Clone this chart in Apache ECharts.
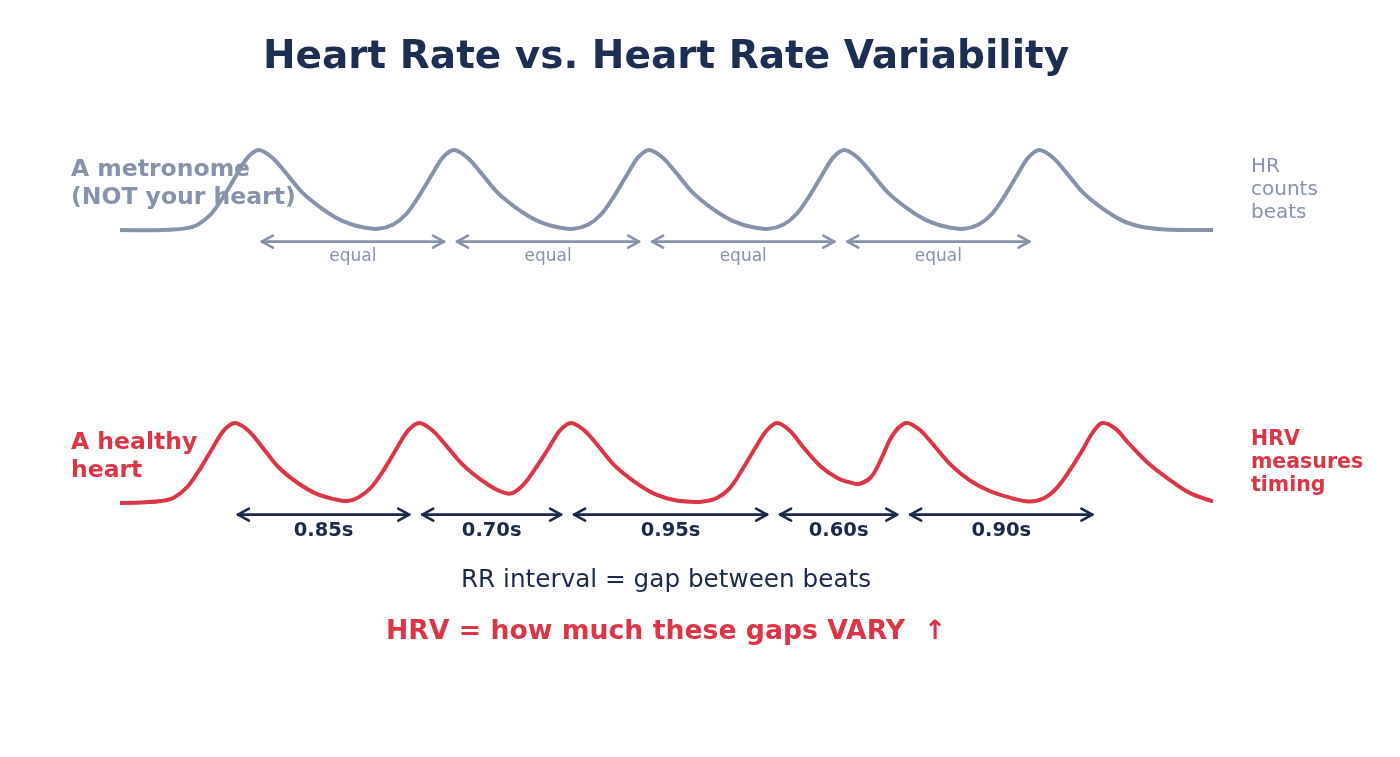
<!DOCTYPE html>
<html>
<head>
<meta charset="utf-8">
<script src="https://cdn.jsdelivr.net/npm/echarts@6/dist/echarts.min.js"></script>
<style>
  html, body { margin: 0; padding: 0; background: #ffffff; }
  #chart { width: 1400px; height: 757px; }
</style>
</head>
<body>
<div id="chart"></div>
<script>
// beat times in seconds
const metronomeBeats = [0.64, 1.54, 2.44, 3.34, 4.24];
const healthyBeats = [0.53, 1.38, 2.08, 3.03, 3.63, 4.53];

// labels under the arrows
const metronomeLabels = ['equal', 'equal', 'equal', 'equal'];
const rrLabels = ['0.85s', '0.70s', '0.95s', '0.60s', '0.90s'];

// pulse traces: [time (s), amplitude (0 = baseline, 1 = peak)]
const metronomeWave = [
  [0, 0], [0.2, 0], [0.30, 0.02], [0.36, 0.07], [0.42, 0.2], [0.48, 0.43], [0.54, 0.7], [0.59, 0.91], [0.64, 1],
  [0.70, 0.91], [0.76, 0.73], [0.84, 0.47], [0.93, 0.27], [1.02, 0.12], [1.11, 0.04], [1.19, 0.015],
  [1.26, 0.07], [1.32, 0.2], [1.38, 0.43], [1.44, 0.7], [1.49, 0.91], [1.54, 1],
  [1.60, 0.91], [1.66, 0.73], [1.74, 0.47], [1.83, 0.27], [1.92, 0.12], [2.01, 0.04], [2.09, 0.015],
  [2.16, 0.07], [2.22, 0.2], [2.28, 0.43], [2.34, 0.7], [2.39, 0.91], [2.44, 1],
  [2.50, 0.91], [2.56, 0.73], [2.64, 0.47], [2.73, 0.27], [2.82, 0.12], [2.91, 0.04], [2.99, 0.015],
  [3.06, 0.07], [3.12, 0.2], [3.18, 0.43], [3.24, 0.7], [3.29, 0.91], [3.34, 1],
  [3.40, 0.91], [3.46, 0.73], [3.54, 0.47], [3.63, 0.27], [3.72, 0.12], [3.81, 0.04], [3.89, 0.015],
  [3.96, 0.07], [4.02, 0.2], [4.08, 0.43], [4.14, 0.7], [4.19, 0.91], [4.24, 1],
  [4.30, 0.91], [4.36, 0.73], [4.44, 0.47], [4.53, 0.27], [4.62, 0.12], [4.71, 0.04], [4.80, 0.01],
  [4.92, 0], [5.04, 0]
];

const healthyWave = [
  [0, 0], [0.12, 0.01], [0.19, 0.025], [0.25, 0.07], [0.31, 0.2], [0.37, 0.43], [0.43, 0.7], [0.48, 0.91], [0.53, 1],
  [0.59, 0.91], [0.65, 0.72], [0.73, 0.45], [0.82, 0.25], [0.91, 0.11], [1.00, 0.04], [1.05, 0.025],
  [1.10, 0.07], [1.16, 0.2], [1.22, 0.43], [1.28, 0.7], [1.33, 0.91], [1.38, 1],
  [1.44, 0.91], [1.50, 0.73], [1.58, 0.48], [1.67, 0.28], [1.75, 0.15], [1.805, 0.12],
  [1.86, 0.23], [1.92, 0.45], [1.98, 0.7], [2.03, 0.91], [2.08, 1],
  [2.14, 0.91], [2.20, 0.73], [2.28, 0.47], [2.37, 0.27], [2.46, 0.12], [2.55, 0.04], [2.63, 0.015],
  [2.69, 0.02], [2.75, 0.06], [2.81, 0.18], [2.87, 0.42], [2.93, 0.69], [2.98, 0.9], [3.03, 1],
  [3.09, 0.9], [3.15, 0.7], [3.23, 0.46], [3.31, 0.31], [3.37, 0.255], [3.41, 0.24],
  [3.465, 0.33], [3.515, 0.58], [3.55, 0.79], [3.59, 0.94], [3.63, 1],
  [3.69, 0.91], [3.75, 0.73], [3.83, 0.48], [3.92, 0.28], [4.01, 0.15], [4.10, 0.07], [4.19, 0.02],
  [4.26, 0.06], [4.32, 0.19], [4.38, 0.41], [4.44, 0.67], [4.485, 0.88], [4.53, 1],
  [4.59, 0.93], [4.65, 0.75], [4.74, 0.5], [4.84, 0.29], [4.93, 0.13], [5.04, 0.02]
];

const GREY = '#8793aa';
const RED = '#dc3545';
const NAVY = '#1b2a4a';
const FONT = '"DejaVu Sans", sans-serif';

// one arrow per gap between consecutive beats
function gaps(beats) {
  const out = [];
  for (let i = 0; i < beats.length - 1; i++) out.push([beats[i], beats[i + 1]]);
  return out;
}

// whole trace as one smooth polyline, each point mapped through the axes
function waveRenderer(points, color) {
  return function (params, api) {
    if (params.dataIndex !== 0) return null;
    return {
      type: 'polyline',
      shape: { points: points.map(function (p) { return api.coord(p); }), smooth: 0.34 },
      style: { stroke: color, lineWidth: 4, fill: null, lineJoin: 'round' }
    };
  };
}

// double-headed arrow with its label below, placed through the axes
function arrowRenderer(labels, color, font, labelGap) {
  return function (params, api) {
    const a = api.coord([api.value(0), -0.145]);
    const b = api.coord([api.value(1), -0.145]);
    const x0 = a[0] + 3, x1 = b[0] - 10, y = a[1];
    const h = 11, w = 6;
    const st = { stroke: color, lineWidth: 2.6, fill: null, lineCap: 'round', lineJoin: 'round' };
    return {
      type: 'group',
      children: [
        { type: 'line', shape: { x1: x0, y1: y, x2: x1, y2: y }, style: st },
        { type: 'polyline', shape: { points: [[x0 + h, y - w], [x0, y], [x0 + h, y + w]] }, style: st },
        { type: 'polyline', shape: { points: [[x1 - h, y - w], [x1, y], [x1 - h, y + w]] }, style: st },
        {
          type: 'text',
          style: {
            text: labels[params.dataIndex], x: (x0 + x1) / 2, y: y + labelGap,
            fill: color, font: font, align: 'center', verticalAlign: 'middle'
          }
        }
      ]
    };
  };
}

const chart = echarts.init(document.getElementById('chart'), null, { renderer: 'canvas' });

chart.setOption({
  animation: false,
  backgroundColor: '#ffffff',
  grid: [
    { left: 120, right: 187, top: 130, height: 140 },
    { left: 120, right: 187, top: 403, height: 140 }
  ],
  xAxis: [
    { type: 'value', gridIndex: 0, min: 0, max: 5.04, show: false },
    { type: 'value', gridIndex: 1, min: 0, max: 5.04, show: false }
  ],
  yAxis: [
    { type: 'value', gridIndex: 0, min: -0.5, max: 1.25, show: false },
    { type: 'value', gridIndex: 1, min: -0.5, max: 1.25, show: false }
  ],
  graphic: [
    { type: 'text', x: 666, y: 58, z: 0, style: { text: 'Heart Rate vs. Heart Rate Variability', fill: '#1c2f52', font: 'bold 39px ' + FONT, align: 'center', verticalAlign: 'middle' } },
    { type: 'text', x: 71, y: 184, z: 0, style: { text: 'A metronome\n(NOT your heart)', fill: GREY, font: 'bold 23.5px ' + FONT, lineHeight: 28, align: 'left', verticalAlign: 'middle' } },
    { type: 'text', x: 1251, y: 190, z: 0, style: { text: 'HR\ncounts\nbeats', fill: GREY, font: '20px ' + FONT, lineHeight: 23, align: 'left', verticalAlign: 'middle' } },
    { type: 'text', x: 71, y: 457, z: 0, style: { text: 'A healthy\nheart', fill: RED, font: 'bold 23.5px ' + FONT, lineHeight: 28, align: 'left', verticalAlign: 'middle' } },
    { type: 'text', x: 1251, y: 463, z: 0, style: { text: 'HRV\nmeasures\ntiming', fill: RED, font: 'bold 20.5px ' + FONT, lineHeight: 23, align: 'left', verticalAlign: 'middle' } },
    { type: 'text', x: 666, y: 581, z: 0, style: { text: 'RR interval = gap between beats', fill: NAVY, font: '24.7px ' + FONT, align: 'center', verticalAlign: 'middle' } },
    { type: 'text', x: 666, y: 632, z: 0, style: { text: 'HRV = how much these gaps VARY  \u2191', fill: RED, font: 'bold 26.7px ' + FONT, align: 'center', verticalAlign: 'middle' } }
  ],
  series: [
    {
      name: 'Metronome', type: 'custom', xAxisIndex: 0, yAxisIndex: 0, silent: true, clip: false, z: 5,
      data: metronomeWave, encode: { x: 0, y: 1 },
      renderItem: waveRenderer(metronomeWave, GREY)
    },
    {
      name: 'Healthy heart', type: 'custom', xAxisIndex: 1, yAxisIndex: 1, silent: true, clip: false, z: 5,
      data: healthyWave, encode: { x: 0, y: 1 },
      renderItem: waveRenderer(healthyWave, RED)
    },
    {
      type: 'custom', xAxisIndex: 0, yAxisIndex: 0, silent: true, clip: false, z: 4,
      data: gaps(metronomeBeats), encode: { x: [0, 1] },
      renderItem: arrowRenderer(metronomeLabels, GREY, '17px ' + FONT, 15)
    },
    {
      type: 'custom', xAxisIndex: 1, yAxisIndex: 1, silent: true, clip: false, z: 4,
      data: gaps(healthyBeats), encode: { x: [0, 1] },
      renderItem: arrowRenderer(rrLabels, NAVY, 'bold 19.5px ' + FONT, 16)
    }
  ]
});
</script>
</body>
</html>
